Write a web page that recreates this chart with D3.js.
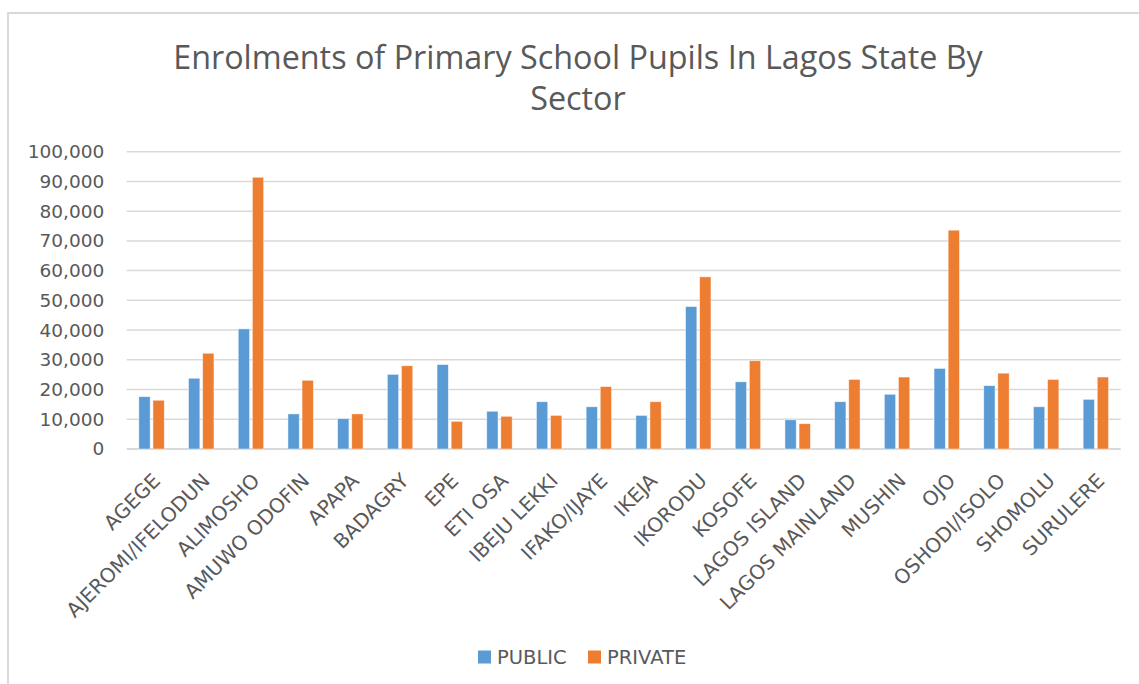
<!DOCTYPE html>
<html><head><meta charset="utf-8">
<script src="https://cdn.jsdelivr.net/npm/d3@7"></script>
<style>body{margin:0;background:#fff}svg{display:block}</style>
</head><body><svg id="c" width="1139" height="684"></svg>
<script>
const categories = ["AGEGE","AJEROMI/IFELODUN","ALIMOSHO","AMUWO ODOFIN","APAPA","BADAGRY","EPE","ETI OSA","IBEJU LEKKI","IFAKO/IJAYE","IKEJA","IKORODU","KOSOFE","LAGOS ISLAND","LAGOS MAINLAND","MUSHIN","OJO","OSHODI/ISOLO","SHOMOLU","SURULERE"];
const publicValues = [17600,23800,40400,11800,10200,25100,28400,12700,15900,14200,11300,47900,22600,9800,15900,18400,27100,21300,14200,16700];
const privateValues = [16400,32200,91400,23100,11800,28000,9300,11000,11300,21000,15900,57900,29700,8500,23400,24200,73600,25500,23400,24200];
const seriesNames = ["PUBLIC","PRIVATE"];
const seriesColors = ["#5B9BD5","#ED7D31"];
const yTicks = [0,10000,20000,30000,40000,50000,60000,70000,80000,90000,100000];
const titleLines = ["Enrolments of Primary School Pupils In Lagos State By","Sector"];

const svg = d3.select("#c");
const W = 1139, H = 684;
const plot = {left:126.7, right:1120.7, top:151.7, bottom:449};
const textColor = "#595959";
const gridColor = "#d9d9d9";
const font = "DejaVu Sans, sans-serif";

svg.append("rect").attr("x",0).attr("y",0).attr("width",W).attr("height",H).attr("fill","#fff");
// outer chart border (right/bottom edges are outside the window)
svg.append("rect").attr("x",8).attr("y",13).attr("width",1300).attr("height",900)
  .attr("fill","none").attr("stroke",gridColor).attr("stroke-width",2);

// title
const titleG = svg.append("g");
const t1 = titleG.append("text").attr("x",578).attr("y",69).attr("text-anchor","middle")
  .attr("font-family","Open Sans, sans-serif").attr("font-weight",400).attr("fill",textColor)
  .attr("font-size",28).text(titleLines[0]);
const len = t1.node().getComputedTextLength();
const fs = 28*810/len;
t1.attr("font-size",fs);
titleG.append("text").attr("x",578).attr("y",110).attr("text-anchor","middle")
  .attr("font-family","Open Sans, sans-serif").attr("font-weight",400).attr("fill",textColor)
  .attr("font-size",fs).text(titleLines[1]);

const x0 = d3.scaleBand().domain(categories).range([plot.left,plot.right]).paddingInner(0).paddingOuter(0);
const groupW = 25.4;
const x1 = d3.scaleBand().domain(seriesNames).range([0,groupW]).paddingInner(0.2).paddingOuter(0);
const y = d3.scaleLinear().domain([0,100000]).range([plot.bottom,plot.top]);

// gridlines
svg.append("g").selectAll("line").data(yTicks).join("line")
  .attr("x1",plot.left).attr("x2",plot.right)
  .attr("y1",d=>y(d)).attr("y2",d=>y(d))
  .attr("stroke",gridColor).attr("stroke-width",d=>d===0?2:1.5);

// y axis
const yAxis = svg.append("g").attr("transform",`translate(${plot.left},0)`)
  .call(d3.axisLeft(y).tickValues(yTicks).tickFormat(d3.format(",")).tickSize(0).tickPadding(22.5));
yAxis.select(".domain").remove();
yAxis.selectAll("text").attr("font-family",font).attr("font-size",18.5).attr("fill",textColor);

// bars
const rows = categories.map((c,i)=>({cat:c, vals:[publicValues[i],privateValues[i]]}));
const groups = svg.append("g").selectAll("g").data(rows).join("g")
  .attr("transform",d=>`translate(${x0(d.cat)+(x0.bandwidth()-groupW)/2},0)`);
groups.selectAll("rect").data(d=>d.vals.map((v,j)=>({key:seriesNames[j],v,j}))).join("rect")
  .attr("x",d=>x1(d.key)).attr("width",x1.bandwidth())
  .attr("y",d=>y(d.v)).attr("height",d=>y(0)-y(d.v))
  .attr("fill",d=>seriesColors[d.j])
  .attr("stroke","#fff").attr("stroke-opacity",0.6).attr("stroke-width",0.75);

// x axis labels
const xAxis = svg.append("g").attr("transform",`translate(0,${plot.bottom})`)
  .call(d3.axisBottom(x0).tickSize(0).tickPadding(0));
xAxis.select(".domain").remove();
xAxis.selectAll(".tick text")
  .attr("font-family",font).attr("font-size",20).attr("fill",textColor)
  .attr("text-anchor","end").attr("dy","0.35em")
  .attr("transform","translate(5,28) rotate(-45)")
  .attr("y",0).attr("x",0);

// legend
const legend = svg.append("g");
const legendItems = [{name:seriesNames[0],color:seriesColors[0],x:478},{name:seriesNames[1],color:seriesColors[1],x:588}];
legendItems.forEach(it=>{
  legend.append("rect").attr("x",it.x).attr("y",650.5).attr("width",13).attr("height",13).attr("fill",it.color);
  legend.append("text").attr("x",it.x+19).attr("y",657).attr("dy","0.35em")
    .attr("font-family",font).attr("font-size",19.5).attr("fill",textColor).text(it.name);
});
</script>
</body></html>
